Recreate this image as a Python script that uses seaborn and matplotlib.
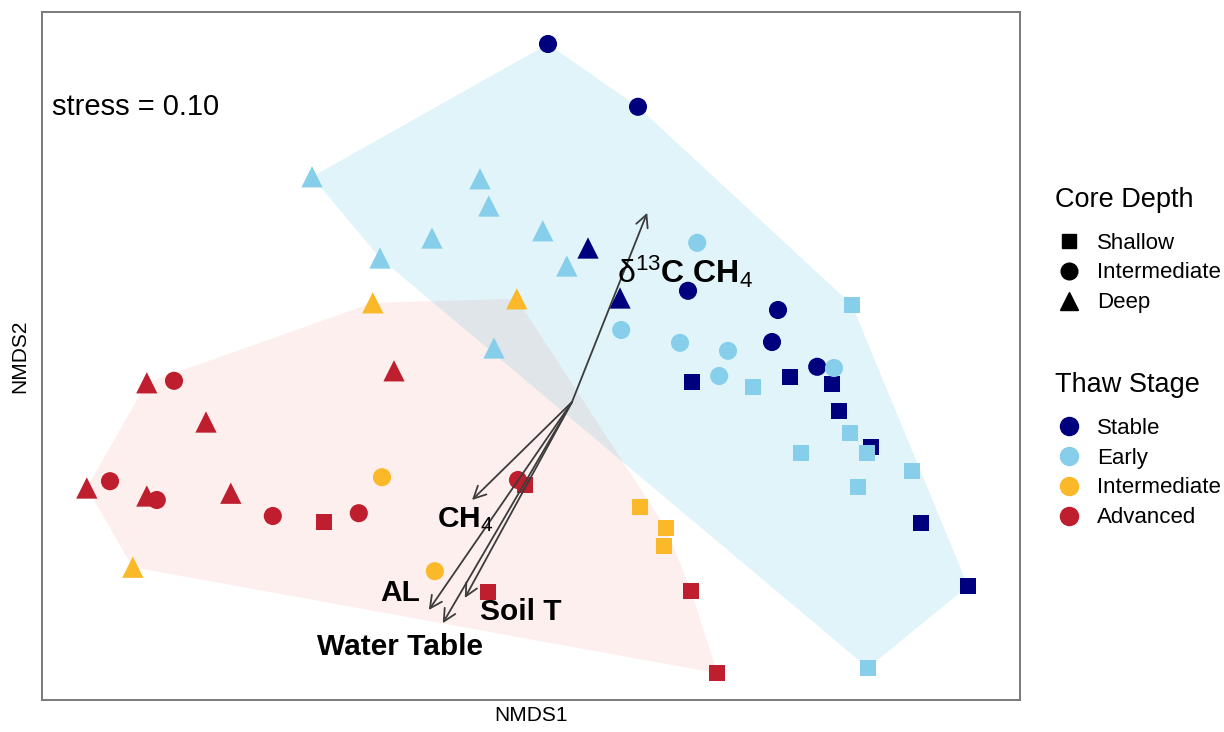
import numpy as np
import pandas as pd
import matplotlib
matplotlib.use("Agg")
import matplotlib.pyplot as plt
from matplotlib.lines import Line2D
import seaborn as sns

# ---- NMDS site scores, one set of lists per thaw stage ----
stable_x = [-0.060, 0.165, 0.040, 0.120, 0.290, 0.515, 0.500, 0.613,
            0.300, 0.545, 0.650, 0.668, 0.748, 0.873, 0.990]
stable_y = [0.895, 0.738, 0.385, 0.260, 0.278, 0.230, 0.150, 0.088,
            0.050, 0.063, 0.045, -0.023, -0.113, -0.303, -0.460]
stable_depth = ["Intermediate", "Intermediate", "Deep", "Deep", "Intermediate",
                "Intermediate", "Intermediate", "Intermediate",
                "Shallow", "Shallow", "Shallow", "Shallow", "Shallow", "Shallow", "Shallow"]

early_x = [-0.650, -0.230, -0.208, -0.350, -0.480, -0.073, -0.013, -0.195,
           0.313, 0.123, 0.270, 0.390, 0.368, 0.655,
           0.700, 0.453, 0.695, 0.738, 0.573, 0.715, 0.850, 0.740]
early_y = [0.563, 0.558, 0.490, 0.410, 0.360, 0.428, 0.340, 0.135,
           0.398, 0.180, 0.148, 0.128, 0.065, 0.085,
           0.243, 0.038, -0.078, -0.128, -0.128, -0.213, -0.173, -0.665]
early_depth = ["Deep"] * 8 + ["Intermediate"] * 6 + ["Shallow"] * 8

inter_x = [-0.498, -0.138, -0.475, -0.343, -1.098, 0.170, 0.235, 0.230]
inter_y = [0.248, 0.258, -0.188, -0.423, -0.413, -0.263, -0.315, -0.360]
inter_depth = ["Deep", "Deep", "Intermediate", "Intermediate", "Deep",
               "Shallow", "Shallow", "Shallow"]

adv_x = [-1.063, -0.995, -0.915, -0.445, -1.213, -1.155, -1.063, -1.038,
         -0.853, -0.748, -0.620, -0.533, -0.135, -0.118, -0.210, 0.298, 0.363]
adv_y = [0.048, 0.053, -0.050, 0.078, -0.215, -0.198, -0.235, -0.245,
         -0.228, -0.285, -0.300, -0.278, -0.195, -0.208, -0.475, -0.473, -0.678]
adv_depth = ["Deep", "Intermediate", "Deep", "Deep", "Deep", "Intermediate", "Deep",
             "Intermediate", "Deep", "Intermediate", "Shallow", "Intermediate",
             "Intermediate", "Shallow", "Shallow", "Shallow", "Shallow"]

stages = ["Stable", "Early", "Intermediate", "Advanced"]
depths = ["Shallow", "Intermediate", "Deep"]

# ---- fitted environmental vectors (envfit) ----
env_names = ["d13C", "CH4", "AL", "Water Table", "Soil T"]
env_x = [0.188, -0.250, -0.358, -0.323, -0.268]
env_y = [0.473, -0.245, -0.520, -0.553, -0.490]

stress_value = 0.10

# ---- assemble long table ----
frames = []
for name, xs, ys, ds in [("Stable", stable_x, stable_y, stable_depth),
                         ("Early", early_x, early_y, early_depth),
                         ("Intermediate", inter_x, inter_y, inter_depth),
                         ("Advanced", adv_x, adv_y, adv_depth)]:
    frames.append(pd.DataFrame({"NMDS1": xs, "NMDS2": ys,
                                "Thaw Stage": name, "Core Depth": ds}))
df = pd.concat(frames, ignore_index=True)

palette = {"Stable": "#00007f", "Early": "#87ceeb",
           "Intermediate": "#fbb829", "Advanced": "#be1e2d"}
markers = {"Shallow": "s", "Intermediate": "o", "Deep": "^"}
sizes = {"Shallow": 140, "Intermediate": 170, "Deep": 235}

sns.set_style("white")
plt.rcParams["font.family"] = ["Liberation Sans", "DejaVu Sans"]
plt.rcParams["text.color"] = "black"
plt.rcParams["axes.labelcolor"] = "black"
plt.rcParams["mathtext.fontset"] = "custom"
plt.rcParams["mathtext.rm"] = "Liberation Sans"
plt.rcParams["mathtext.bf"] = "Liberation Sans:bold"
plt.rcParams["mathtext.it"] = "Liberation Sans:italic"

fig = plt.figure(figsize=(12.24, 7.32), dpi=100)
ax = fig.add_axes([42 / 1224, 32 / 732, 978 / 1224, 688 / 732])


def convex_hull(pts):
    pts = sorted(set(map(tuple, pts)))
    def cross(o, a, b):
        return (a[0] - o[0]) * (b[1] - o[1]) - (a[1] - o[1]) * (b[0] - o[0])
    lower, upper = [], []
    for p in pts:
        while len(lower) >= 2 and cross(lower[-2], lower[-1], p) <= 0:
            lower.pop()
        lower.append(p)
    for p in reversed(pts):
        while len(upper) >= 2 and cross(upper[-2], upper[-1], p) <= 0:
            upper.pop()
        upper.append(p)
    return np.array(lower[:-1] + upper[:-1])


# hulls: undisturbed (stable + early) vs thawed (intermediate + advanced)
cold = df[df["Thaw Stage"].isin(["Stable", "Early"])][["NMDS1", "NMDS2"]].values
warm = df[df["Thaw Stage"].isin(["Intermediate", "Advanced"])][["NMDS1", "NMDS2"]].values
h1 = convex_hull(cold)
h2 = convex_hull(warm)
ax.fill(h1[:, 0], h1[:, 1], color="#87d7eb", alpha=0.25, lw=0, zorder=1)
ax.fill(h2[:, 0], h2[:, 1], color="#eb4b41", alpha=0.085, lw=0, zorder=1)

sns.scatterplot(data=df, x="NMDS1", y="NMDS2", hue="Thaw Stage", style="Core Depth",
                size="Core Depth", sizes=sizes, markers=markers, palette=palette,
                hue_order=stages, style_order=depths, linewidth=0, legend=False,
                ax=ax, zorder=3)

# environmental vectors
for vx, vy in zip(env_x, env_y):
    ax.annotate("", xy=(vx, vy), xytext=(0, 0),
                arrowprops=dict(arrowstyle="->", color="#3c3c3c", lw=1.3,
                                mutation_scale=22, shrinkA=0, shrinkB=0),
                zorder=4)

label_pos = {"d13C": (0.283, 0.325), "CH4": (-0.268, -0.295), "AL": (-0.430, -0.478),
             "Water Table": (-0.430, -0.613), "Soil T": (-0.128, -0.525)}
label_txt = {"d13C": r"δ$^{\mathrm{13}}$$\mathbf{C\ CH}_{\mathrm{4}}$",
             "CH4": r"$\mathbf{CH}_{\mathrm{4}}$",
             "AL": "AL", "Water Table": "Water Table", "Soil T": "Soil T"}
for name in env_names:
    lx, ly = label_pos[name]
    weight = "normal" if name == "d13C" else "bold"
    size = 23 if name == "d13C" else 21.5
    ax.text(lx, ly, label_txt[name], fontsize=size, fontweight=weight,
            ha="center", va="center", zorder=5)

ax.text(0.0102, 0.862, f"stress = {stress_value:.2f}", transform=ax.transAxes,
        fontsize=21, ha="left", va="center")

ax.set_xlim(-1.325, 1.12)
ax.set_ylim(-0.745, 0.975)
ax.set_xticks([])
ax.set_yticks([])
ax.set_xlabel("NMDS1", fontsize=15, labelpad=4)
ax.set_ylabel("NMDS2", fontsize=15, labelpad=9)
for s in ax.spines.values():
    s.set_color("#7a7a7a")
    s.set_linewidth(1.4)

# legends: titles as separate text, entries as figure legends
depth_handles = [Line2D([], [], ls="", marker=markers[d], color="black",
                        markersize={"Shallow": 10, "Intermediate": 12, "Deep": 13}[d])
                 for d in depths]
stage_handles = [Line2D([], [], ls="", marker="o", color=palette[s], markersize=13)
                 for s in stages]
common = dict(frameon=False, fontsize=16, loc="center left",
              handlelength=1.0, handletextpad=0.75, labelspacing=0.4,
              borderpad=0, borderaxespad=0)
fig.text(1055 / 1224, 1 - 200 / 732, "Core Depth", fontsize=19.5, ha="left", va="center")
fig.legend(depth_handles, depths, bbox_to_anchor=(1058 / 1224, 1 - 273 / 732), **common)
fig.text(1055 / 1224, 1 - 385 / 732, "Thaw Stage", fontsize=19.5, ha="left", va="center")
fig.legend(stage_handles, stages, bbox_to_anchor=(1058 / 1224, 1 - 473 / 732), **common)

fig.savefig("out.png", dpi=100)
